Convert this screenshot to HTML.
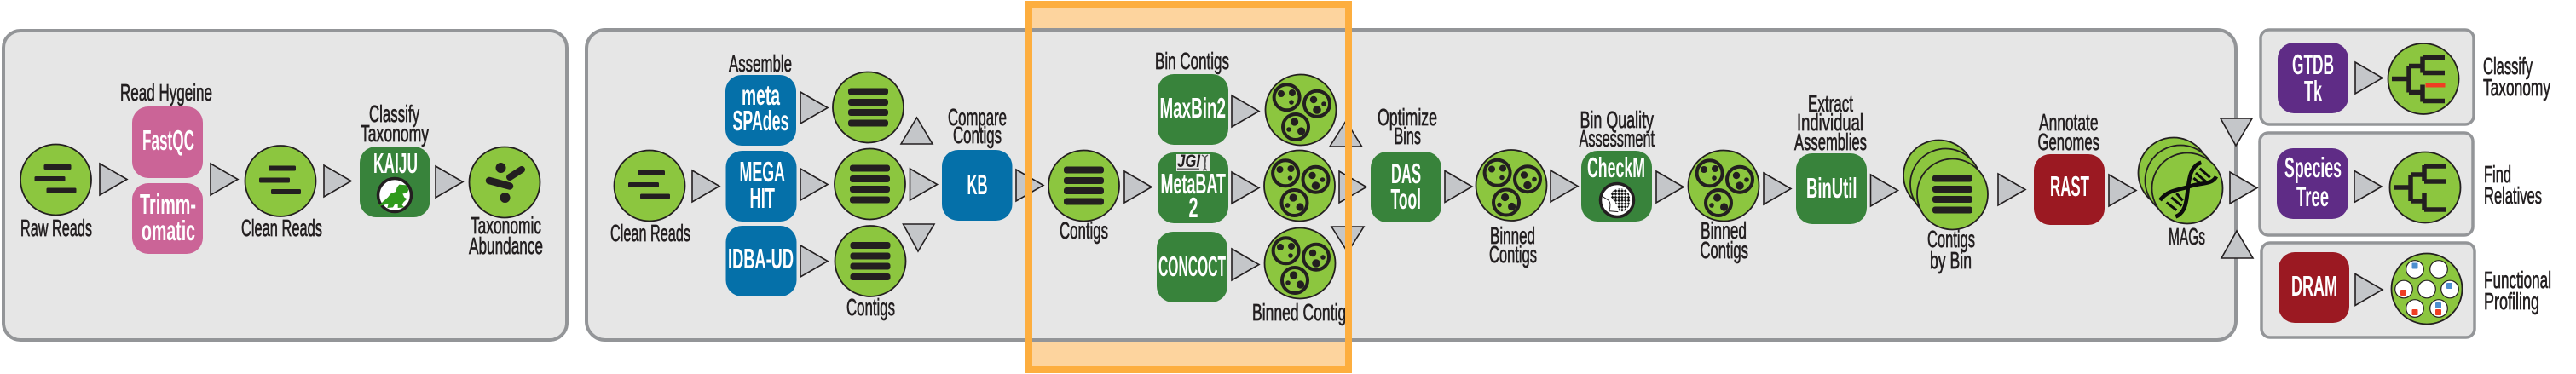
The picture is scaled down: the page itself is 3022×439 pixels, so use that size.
<!DOCTYPE html>
<html><head><meta charset="utf-8"><style>
html,body{margin:0;padding:0;background:#fff;width:3022px;height:439px;overflow:hidden}
svg{display:block}
text{font-family:"Liberation Sans Narrow","Liberation Sans",sans-serif}
.l{font-size:28px;fill:#231f20;stroke:#231f20;stroke-width:.7px}
.w{font-size:33px;fill:#fff;font-weight:bold}
.p{fill:#e6e6e6;stroke:#939598;stroke-width:4}
.q{fill:#e6e6e6;stroke:#939598;stroke-width:3.5}
.pk{fill:#cb6497}.gr{fill:#38833b}.bl{fill:#0570a9}.rd{fill:#9b1922}.pu{fill:#5f2c86}
.t{fill:#c4c6c9;stroke:#231f20;stroke-width:1.6;stroke-linejoin:miter}
.c{fill:#8cc63f;stroke:#231f20;stroke-width:1.8}
</style></head><body>
<svg width="3022" height="439" viewBox="0 0 3022 439" xmlns="http://www.w3.org/2000/svg">
<defs>
<polygon id="a" class="t" points="0,0 32,18.5 0,37"/>
<circle id="o" class="c" r="41.5"/>
<g id="reads" fill="#231f20">
<circle class="c" r="41.5"/>
<rect x="-14" y="-18" width="32" height="6" rx="1.5"/>
<rect x="-25" y="-4" width="36" height="6" rx="1.5"/>
<rect x="-11" y="9.5" width="35" height="6" rx="1.5"/>
</g>
<g id="bars" fill="#231f20">
<circle class="c" r="41.5"/>
<rect x="-23.5" y="-22.5" width="47" height="8" rx="3"/>
<rect x="-23.5" y="-10" width="47" height="8" rx="3"/>
<rect x="-23.5" y="2" width="47" height="8" rx="3"/>
<rect x="-23.5" y="14.500" width="47" height="8" rx="3"/>
</g>
<g id="bins">
<circle class="c" r="41.5"/>
<g fill="none" stroke="#231f20" stroke-width="4">
<circle cx="-16.4" cy="-14.700" r="15"/><circle cx="19" cy="-7.300" r="15"/><circle cx="-6" cy="20" r="15"/>
</g>
<g fill="#231f20">
<circle cx="-23" cy="-19" r="4"/><circle cx="-10" cy="-20" r="4"/><circle cx="-11" cy="-9" r="2.800"/>
<circle cx="15" cy="-12" r="4.200"/><circle cx="27" cy="-7" r="2.800"/><circle cx="19" cy="0" r="4.800"/>
<circle cx="-7.400" cy="14" r="4.600"/><circle cx="-14" cy="23" r="2.800"/><circle cx="0.600" cy="25" r="4.600"/>
</g>
</g>
<g id="tree" fill="none" stroke="#231f20" stroke-width="5.500">
<circle class="c" r="41.500" style="stroke-width:1.800"/>
<path d="M-37 0H-17M-17 -15V16M-17 -15H0M-17 16H0M-1 -26V-7M-1 -25H25M-1 -7H25M-1 7V27M-1 26H25"/>
</g>
<pattern id="chk" width="16" height="16" patternUnits="userSpaceOnUse" patternTransform="rotate(45)">
<rect width="16" height="16" fill="#fff"/><rect width="8" height="8" fill="#111"/><rect x="8" y="8" width="8" height="8" fill="#111"/>
</pattern>
<clipPath id="cl"><rect x="1440" y="340" width="142" height="50"/></clipPath>
</defs>

<!-- highlight band -->
<rect x="1207" y="4.500" width="375" height="429.500" fill="#fdd49e"/>

<!-- panels -->
<rect class="p" x="4" y="36" width="661" height="363" rx="20"/>
<rect class="p" x="688" y="35" width="1935" height="364" rx="22"/>
<rect class="q" x="2652" y="35" width="250" height="111" rx="10"/>
<rect class="q" x="2651" y="156" width="250" height="120" rx="10"/>
<rect class="q" x="2653" y="285" width="250" height="111" rx="10"/>

<!-- panel 1 -->
<use href="#reads" x="65.500" y="211"/>
<use href="#a" x="117" y="192"/>
<rect class="pk" x="155" y="125" width="83" height="84" rx="19"/>
<rect class="pk" x="155" y="215" width="83" height="83" rx="19"/>
<use href="#a" x="247" y="192"/>
<use href="#reads" x="329" y="212.500"/>
<use href="#a" x="380" y="194"/>
<rect class="gr" x="422" y="172" width="82.500" height="83" rx="19"/>
<use href="#a" x="511" y="195"/>
<circle class="c" cx="592" cy="214" r="41.500"/>
<g fill="#231f20" stroke="#231f20" stroke-linecap="round">
<circle cx="587.500" cy="197" r="5.500"/><circle cx="592.500" cy="232" r="5.500"/>
<path d="M598 208L612 199" stroke-width="8"/><path d="M574 212L598 218.500" stroke-width="8.500"/>
</g>
<text class="l" x="141" y="118" textLength="108" lengthAdjust="spacingAndGlyphs">Read Hygeine</text>
<text class="l" x="24" y="277" textLength="84" lengthAdjust="spacingAndGlyphs">Raw Reads</text>
<text class="l" x="283" y="277" textLength="95" lengthAdjust="spacingAndGlyphs">Clean Reads</text>
<text class="l" x="433" y="143" textLength="59" lengthAdjust="spacingAndGlyphs">Classify</text>
<text class="l" x="423" y="166" textLength="80" lengthAdjust="spacingAndGlyphs">Taxonomy</text>
<text class="l" x="552" y="274" textLength="83" lengthAdjust="spacingAndGlyphs">Taxonomic</text>
<text class="l" x="550" y="298" textLength="87" lengthAdjust="spacingAndGlyphs">Abundance</text>
<text class="w" x="167" y="176" textLength="61" lengthAdjust="spacingAndGlyphs">FastQC</text>
<text class="w" x="164" y="251" textLength="66" lengthAdjust="spacingAndGlyphs">Trimm-</text>
<text class="w" x="166" y="282" textLength="63" lengthAdjust="spacingAndGlyphs">omatic</text>
<text class="w" x="438" y="203" textLength="52" lengthAdjust="spacingAndGlyphs">KAIJU</text>
<circle cx="463" cy="229" r="19.500" fill="#fff" stroke="#231f20" stroke-width="3.500"/>
<g transform="translate(435,200) scale(.3333)">
<polygon fill="#2f9a1c" points="100,50 125,52 133,68 128,80 112,82 118,95 128,100 115,112 110,122 118,130 95,132 95,118 85,118 78,130 58,132 62,118 45,122 25,128 45,108 60,95 70,82 88,75 92,60"/>
</g>

<!-- assemble -->
<use href="#reads" x="762" y="218"/>
<use href="#a" x="812" y="200"/>
<rect class="bl" x="851" y="88" width="83" height="83" rx="19"/>
<rect class="bl" x="851.500" y="177" width="83" height="83" rx="19"/>
<rect class="bl" x="851.500" y="265" width="83" height="83" rx="19"/>
<use href="#a" x="939" y="108"/><use href="#a" x="939" y="198"/><use href="#a" x="939" y="288"/>
<use href="#bars" x="1018.500" y="126"/><use href="#bars" x="1020.500" y="216"/><use href="#bars" x="1021" y="306.500"/>
<polygon class="t" points="1057,169 1075.500,138 1094,169"/>
<polygon class="t" points="1059.500,263 1096,263 1077,295"/>
<use href="#a" x="1067.500" y="198"/>
<rect class="bl" x="1105" y="176" width="82.500" height="83" rx="19"/>
<use href="#a" x="1192" y="199"/>
<use href="#bars" x="1271.500" y="218"/>
<use href="#a" x="1319" y="201"/>
<text class="l" x="716" y="283" textLength="94" lengthAdjust="spacingAndGlyphs">Clean Reads</text>
<text class="l" x="855" y="84" textLength="74" lengthAdjust="spacingAndGlyphs">Assemble</text>
<text class="l" x="993" y="370" textLength="57" lengthAdjust="spacingAndGlyphs">Contigs</text>
<text class="l" x="1112" y="147" textLength="69" lengthAdjust="spacingAndGlyphs">Compare</text>
<text class="l" x="1118" y="168" textLength="57" lengthAdjust="spacingAndGlyphs">Contigs</text>
<text class="l" x="1243" y="280" textLength="57" lengthAdjust="spacingAndGlyphs">Contigs</text>
<text class="w" x="870" y="123" textLength="45" lengthAdjust="spacingAndGlyphs">meta</text>
<text class="w" x="859.500" y="153" textLength="66" lengthAdjust="spacingAndGlyphs">SPAdes</text>
<text class="w" x="867.500" y="213" textLength="53.500" lengthAdjust="spacingAndGlyphs">MEGA</text>
<text class="w" x="879.500" y="244" textLength="29.500" lengthAdjust="spacingAndGlyphs">HIT</text>
<text class="w" x="854" y="315" textLength="77" lengthAdjust="spacingAndGlyphs">IDBA-UD</text>
<text class="w" x="1134.500" y="228" textLength="24" lengthAdjust="spacingAndGlyphs">KB</text>

<!-- binning -->
<rect class="gr" x="1358" y="87" width="83" height="83" rx="19"/>
<rect class="gr" x="1358" y="179" width="83" height="83" rx="19"/>
<rect class="gr" x="1357" y="272" width="83" height="83" rx="19"/>
<rect x="1380" y="181" width="39.500" height="20" fill="#e8e8e8"/>
<text x="1381" y="196" font-size="21" font-weight="bold" font-style="italic" fill="#231f20" textLength="27" lengthAdjust="spacingAndGlyphs">JGI</text>
<rect x="1381" y="197.500" width="26" height="1.500" fill="#666"/>
<path d="M1410 182C1420 188 1408 194 1416 200M1417 182C1407 188 1419 194 1411 200" fill="none" stroke="#555" stroke-width="1.500"/>
<use href="#a" x="1445" y="112"/><use href="#a" x="1445" y="202"/><use href="#a" x="1445" y="292"/>
<use href="#bins" x="1526" y="129"/><use href="#bins" x="1524.500" y="218"/><use href="#bins" x="1525" y="309"/>
<polygon class="t" points="1560,172 1579,142 1597.600,172"/>
<use href="#a" x="1571" y="201"/>
<polygon class="t" points="1562,266 1600,266 1581,296"/>
<text class="l" x="1355" y="81" textLength="87" lengthAdjust="spacingAndGlyphs">Bin Contigs</text>
<g clip-path="url(#cl)"><text class="l" x="1469" y="376" textLength="119" lengthAdjust="spacingAndGlyphs">Binned Contigs</text></g>
<text class="w" x="1360.500" y="138" textLength="77.500" lengthAdjust="spacingAndGlyphs">MaxBin2</text>
<text class="w" x="1361.500" y="227" textLength="76.500" lengthAdjust="spacingAndGlyphs">MetaBAT</text>
<text class="w" x="1394.500" y="255" textLength="11" lengthAdjust="spacingAndGlyphs">2</text>
<text class="w" x="1359" y="324" textLength="79" lengthAdjust="spacingAndGlyphs">CONCOCT</text>

<!-- optimize onwards -->
<rect class="gr" x="1608" y="178" width="83" height="83" rx="19"/>
<use href="#a" x="1695" y="200.500"/>
<use href="#bins" x="1773" y="217.500"/>
<use href="#a" x="1819" y="200"/>
<rect class="gr" x="1855" y="177" width="83" height="83" rx="19"/>
<use href="#a" x="1943" y="201"/>
<use href="#bins" x="2022" y="218"/>
<use href="#a" x="2069" y="203"/>
<rect class="gr" x="2107" y="180" width="83" height="83" rx="19"/>
<use href="#a" x="2194.500" y="205"/>
<use href="#o" x="2274.500" y="206"/><use href="#o" x="2282.500" y="216"/>
<use href="#bars" x="2290.500" y="228"/>
<use href="#a" x="2344" y="204"/>
<rect class="rd" x="2386" y="181" width="83" height="83" rx="19"/>
<use href="#a" x="2474" y="205"/>
<use href="#o" x="2550" y="203"/><use href="#o" x="2558" y="212"/><use href="#o" x="2566" y="221"/>
<g transform="translate(2520,175) scale(.3333)" fill="none" stroke="#0c0c0c">
<path d="M187 47C150 60 145 100 140 140C135 190 130 225 97 238" stroke-width="14"/>
<path d="M42 180C70 142 110 145 150 130C190 118 225 125 240 97" stroke-width="14"/>
<path d="M182 68L218 100M168 84L205 116M160 102L184 122M100 156L122 181M82 170L118 200M65 188L100 215" stroke-width="9"/>
</g>
<circle cx="1897" cy="235" r="19.500" fill="#fff" stroke="#231f20" stroke-width="3.500"/>
<g transform="translate(1869,207) scale(.3333)">
<path d="M60 70C65 45 90 38 110 45C130 55 135 85 125 105C118 122 100 128 92 122C85 100 75 88 60 70Z" fill="url(#chk)"/>
<path d="M32 70L55 85C62 95 60 110 56 122L88 125" fill="none" stroke="#231f20" stroke-width="3"/>
</g>
<text class="l" x="1616" y="147" textLength="70" lengthAdjust="spacingAndGlyphs">Optimize</text>
<text class="l" x="1635.500" y="169" textLength="31.500" lengthAdjust="spacingAndGlyphs">Bins</text>
<text class="l" x="1748" y="286" textLength="53" lengthAdjust="spacingAndGlyphs">Binned</text>
<text class="l" x="1747" y="308" textLength="56" lengthAdjust="spacingAndGlyphs">Contigs</text>
<text class="l" x="1853.500" y="150" textLength="86.500" lengthAdjust="spacingAndGlyphs">Bin Quality</text>
<text class="l" x="1852.500" y="172" textLength="88.500" lengthAdjust="spacingAndGlyphs">Assessment</text>
<text class="l" x="1995" y="280" textLength="54" lengthAdjust="spacingAndGlyphs">Binned</text>
<text class="l" x="1994.500" y="303" textLength="56.500" lengthAdjust="spacingAndGlyphs">Contigs</text>
<text class="l" x="2121" y="131" textLength="53" lengthAdjust="spacingAndGlyphs">Extract</text>
<text class="l" x="2108" y="153" textLength="78" lengthAdjust="spacingAndGlyphs">Individual</text>
<text class="l" x="2105" y="176" textLength="85" lengthAdjust="spacingAndGlyphs">Assemblies</text>
<text class="l" x="2261" y="290" textLength="56" lengthAdjust="spacingAndGlyphs">Contigs</text>
<text class="l" x="2264" y="315" textLength="49" lengthAdjust="spacingAndGlyphs">by Bin</text>
<text class="l" x="2392" y="153" textLength="69.500" lengthAdjust="spacingAndGlyphs">Annotate</text>
<text class="l" x="2390.500" y="176" textLength="72.500" lengthAdjust="spacingAndGlyphs">Genomes</text>
<text class="l" x="2544" y="287" textLength="43" lengthAdjust="spacingAndGlyphs">MAGs</text>
<text class="w" x="1632" y="215" textLength="35" lengthAdjust="spacingAndGlyphs">DAS</text>
<text class="w" x="1631.500" y="245" textLength="35.500" lengthAdjust="spacingAndGlyphs">Tool</text>
<text class="w" x="1862" y="208" textLength="68" lengthAdjust="spacingAndGlyphs">CheckM</text>
<text class="w" x="2119" y="232" textLength="59.500" lengthAdjust="spacingAndGlyphs">BinUtil</text>
<text class="w" x="2405" y="230" textLength="46" lengthAdjust="spacingAndGlyphs">RAST</text>

<!-- outputs -->
<polygon class="t" points="2605,139 2642,139 2623,171"/>
<use href="#a" x="2616" y="202"/>
<polygon class="t" points="2606,303 2624,271 2643,303"/>
<rect class="pu" x="2672" y="50" width="83" height="83" rx="19"/>
<use href="#a" x="2763" y="73"/>
<use href="#tree" x="2843" y="92.500"/>
<rect x="2845.500" y="97" width="23" height="5.500" fill="#ef3e23"/>
<rect class="pu" x="2671" y="174" width="84" height="83" rx="19"/>
<use href="#a" x="2762" y="200.500"/>
<use href="#tree" x="2845" y="220"/>
<rect class="rd" x="2673" y="296" width="83" height="83" rx="19"/>
<use href="#a" x="2763" y="321.500"/>
<circle class="c" cx="2847" cy="339" r="41.500"/>
<g fill="#fff" stroke="#231f20" stroke-width="1.200">
<circle cx="2833" cy="316" r="10.300"/><circle cx="2861" cy="316" r="10.300"/>
<circle cx="2820" cy="339.500" r="10.300"/><circle cx="2847" cy="339.500" r="10.300"/><circle cx="2874" cy="339.500" r="10.300"/>
<circle cx="2833" cy="362" r="10.300"/><circle cx="2861" cy="362" r="10.300"/>
</g>
<rect x="2829.500" y="308.500" width="7" height="7" rx="1" fill="#4d8fcf"/>
<rect x="2816" y="340" width="7" height="7" rx="1" fill="#ef3e23"/>
<rect x="2870" y="332" width="7" height="7" rx="1" fill="#4d8fcf"/>
<rect x="2829.500" y="363" width="7" height="7" rx="1" fill="#ef3e23"/>
<rect x="2857" y="355" width="7" height="7" rx="1" fill="#4d8fcf"/>
<rect x="2857" y="363" width="7" height="7" rx="1" fill="#ef3e23"/>
<text class="w" x="2689" y="87" textLength="49" lengthAdjust="spacingAndGlyphs">GTDB</text>
<text class="w" x="2703" y="118" textLength="21" lengthAdjust="spacingAndGlyphs">Tk</text>
<text class="w" x="2680" y="208" textLength="67" lengthAdjust="spacingAndGlyphs">Species</text>
<text class="w" x="2694" y="242" textLength="38" lengthAdjust="spacingAndGlyphs">Tree</text>
<text class="w" x="2688" y="347" textLength="54" lengthAdjust="spacingAndGlyphs">DRAM</text>
<text class="l" x="2913" y="87" textLength="58" lengthAdjust="spacingAndGlyphs">Classify</text>
<text class="l" x="2913" y="112" textLength="79" lengthAdjust="spacingAndGlyphs">Taxonomy</text>
<text class="l" x="2914" y="214" textLength="32" lengthAdjust="spacingAndGlyphs">Find</text>
<text class="l" x="2914" y="239" textLength="68" lengthAdjust="spacingAndGlyphs">Relatives</text>
<text class="l" x="2914" y="338" textLength="79" lengthAdjust="spacingAndGlyphs">Functional</text>
<text class="l" x="2914" y="363" textLength="65" lengthAdjust="spacingAndGlyphs">Profiling</text>

<!-- highlight frame on top -->
<rect x="1207" y="5" width="375" height="429" fill="none" stroke="#fdae3f" stroke-width="8"/>
</svg>
</body></html>
